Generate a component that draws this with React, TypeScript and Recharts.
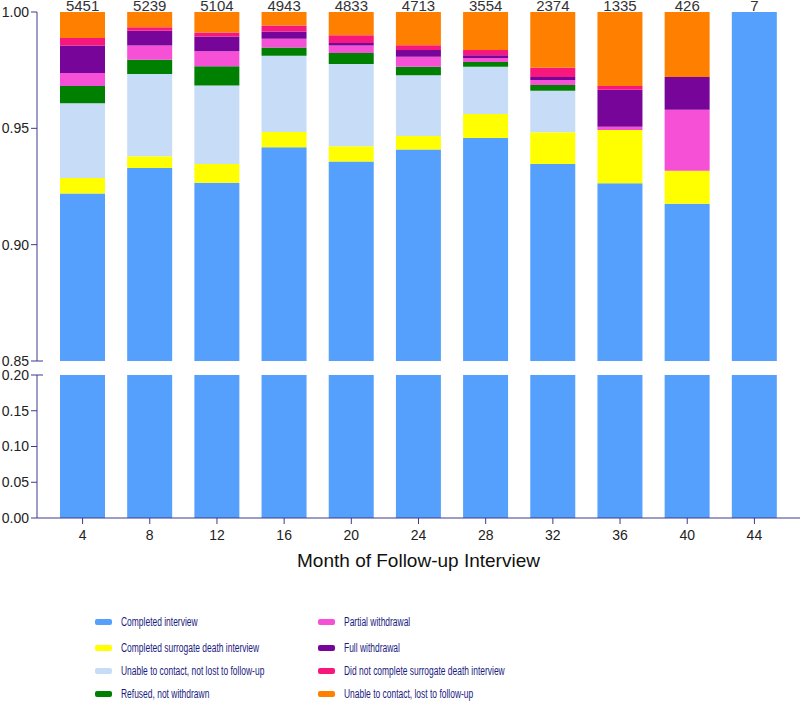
import React from "react";
import { Bar, BarChart, XAxis, YAxis } from "recharts";

const months = ["4", "8", "12", "16", "20", "24", "28", "32", "36", "40", "44"];
const sampleSizes = [5451, 5239, 5104, 4943, 4833, 4713, 3554, 2374, 1335, 426, 7];

// proportions per status, bottom of stack first
const completed = [0.922, 0.933, 0.9266, 0.9419, 0.9357, 0.9409, 0.9458, 0.9347, 0.9264, 0.9176, 1];
const surrogate = [0.0066, 0.005, 0.0081, 0.0065, 0.0066, 0.0058, 0.0104, 0.0136, 0.0229, 0.0142, 0];
const notLost = [0.0322, 0.0354, 0.0337, 0.0328, 0.0353, 0.0261, 0.0203, 0.0179, 0, 0, 0];
const refused = [0.0074, 0.0061, 0.0083, 0.0035, 0.0048, 0.0037, 0.002, 0.0024, 0, 0, 0];
const partial = [0.0056, 0.0061, 0.0064, 0.0038, 0.0032, 0.0043, 0.0017, 0.0022, 0.0014, 0.0262, 0];
const full = [0.0118, 0.0063, 0.0064, 0.0031, 0.0011, 0.0029, 0.0012, 0.0013, 0.0159, 0.0141, 0];
const noSurrogate = [0.0032, 0.0015, 0.0017, 0.0026, 0.0033, 0.002, 0.0023, 0.0039, 0.0016, 0, 0];
const lost = [0.0115, 0.0066, 0.0088, 0.0058, 0.01, 0.0143, 0.0163, 0.024, 0.0318, 0.0279, 0];

const series = [
  { key: "completed", name: "Completed interview", color: "#55a0fc", values: completed },
  { key: "surrogate", name: "Completed surrogate death interview", color: "#ffff00", values: surrogate },
  { key: "notLost", name: "Unable to contact, not lost to follow-up", color: "#c7ddf7", values: notLost },
  { key: "refused", name: "Refused, not withdrawn", color: "#008000", values: refused },
  { key: "partial", name: "Partial withdrawal", color: "#f550d6", values: partial },
  { key: "full", name: "Full withdrawal", color: "#770599", values: full },
  { key: "noSurrogate", name: "Did not complete surrogate death interview", color: "#f8177d", values: noSurrogate },
  { key: "lost", name: "Unable to contact, lost to follow-up", color: "#ff8000", values: lost },
];

const data = months.map((m, i) => {
  const row: Record<string, any> = { month: m, n: sampleSizes[i] };
  series.forEach((s) => (row[s.key] = s.values[i]));
  return row;
});

const AXIS = "#3b3b8f";
const TEXT = "#222";
const FONT = "'Liberation Sans', Arial, sans-serif";

// y tick that also draws the little cross stub at the axis break
const BreakTick = (props: any) => {
  const { x, y, payload, breakAt } = props;
  const axisX = x + 8;
  return (
    <g>
      <text x={x} y={y} dy="0.355em" textAnchor="end" fill={TEXT} fontSize={14} fontFamily={FONT}>
        {Number(payload.value).toFixed(2)}
      </text>
      {payload.value === breakAt && (
        <line x1={axisX} x2={axisX + 6} y1={y} y2={y} stroke={AXIS} />
      )}
    </g>
  );
};

const stack = () =>
  series.map((s) => (
    <Bar key={s.key} dataKey={s.key} stackId="a" fill={s.color} isAnimationActive={false} />
  ));

const legendLeft = series.slice(0, 4);
const legendRight = series.slice(4);
const legendRows = [622, 648, 671, 694];

const App = () => {
  return (
    <div style={{ position: "absolute", left: 0, top: 0, width: 800, height: 701, background: "#fff" }}>
      <div style={{ position: "absolute", left: 0, top: 0 }}>
        <BarChart width={800} height={370} data={data} margin={{ top: 0, right: 0, bottom: 9, left: 0 }} barSize={45}>
          <XAxis dataKey="month" hide padding={{ left: 12, right: 12 }} />
          {/* sample sizes along the top */}
          <XAxis
            xAxisId="top"
            orientation="top"
            dataKey="n"
            height={12}
            padding={{ left: 12, right: 12 }}
            axisLine={false}
            tickLine={false}
            tickSize={0}
            tickMargin={1}
            interval={0}
            tick={{ fill: "#333", fontSize: 15, fontFamily: FONT }}
          />
          <YAxis
            domain={[0.85, 1]}
            ticks={[0.85, 0.9, 0.95, 1]}
            allowDataOverflow
            width={37}
            stroke={AXIS}
            tickSize={6}
            tickMargin={2}
            tick={<BreakTick breakAt={0.85} />}
          />
          {stack()}
        </BarChart>
      </div>
      <div style={{ position: "absolute", left: 0, top: 365 }}>
        <BarChart width={800} height={208} data={data} margin={{ top: 10, right: 0, bottom: 0, left: 0 }} barSize={45}>
          <XAxis
            dataKey="month"
            padding={{ left: 12, right: 12 }}
            height={55}
            stroke={AXIS}
            tickSize={6}
            tickMargin={6}
            tick={{ fill: TEXT, fontSize: 14, fontFamily: FONT }}
            label={{ value: "Month of Follow-up Interview", position: "insideBottom", offset: 6, fill: "#111", fontSize: 19, fontFamily: FONT }}
          />
          <YAxis
            domain={[0, 0.2]}
            ticks={[0, 0.05, 0.1, 0.15, 0.2]}
            allowDataOverflow
            width={37}
            stroke={AXIS}
            tickSize={6}
            tickMargin={2}
            tick={<BreakTick breakAt={0.2} />}
          />
          {stack()}
        </BarChart>
      </div>
      <svg width={800} height={701} style={{ position: "absolute", left: 0, top: 0, pointerEvents: "none" }}>
        {[legendLeft, legendRight].map((col, c) =>
          col.map((s, r) => {
            const sx = c === 0 ? 95 : 318;
            const y = legendRows[r];
            return (
              <g key={s.key}>
                <rect x={sx} y={y - 3} width={17} height={6} rx={2} fill={s.color} />
                <text
                  transform={`translate(${sx + 26},${y}) scale(0.705,1)`}
                  dy="0.355em"
                  fill="#1a1a80"
                  fontSize={12}
                  fontFamily={FONT}
                >
                  {s.name}
                </text>
              </g>
            );
          })
        )}
      </svg>
    </div>
  );
};

export default App;
